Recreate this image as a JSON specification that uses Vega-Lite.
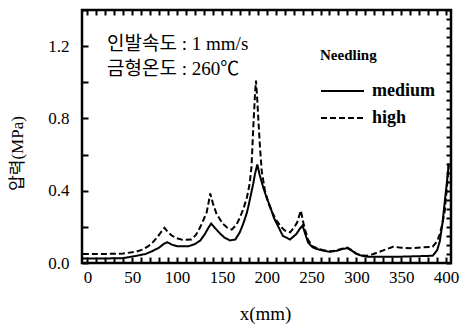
{
  "$schema": "https://vega.github.io/schema/vega-lite/v6.json",
  "width": 369,
  "height": 253,
  "autosize": "none",
  "padding": {"left": 82, "top": 10, "right": 9, "bottom": 62},
  "config": {
    "font": "Liberation Serif",
    "view": {"stroke": "black", "strokeWidth": 2.5},
    "axis": {"domain": false, "grid": false, "labelColor": "black", "titleColor": "black", "labelFont": "Liberation Serif", "labelFontSize": 17, "labelOverlap": false}
  },
  "datasets": {
    "curves": [
      {"x": -5, "p": 0.025, "s": "medium"}, {"x": 20, "p": 0.025, "s": "medium"}, {"x": 40, "p": 0.027, "s": "medium"}, {"x": 55, "p": 0.04, "s": "medium"}, {"x": 65, "p": 0.05, "s": "medium"}, {"x": 72, "p": 0.065, "s": "medium"}, {"x": 80, "p": 0.085, "s": "medium"}, {"x": 85, "p": 0.105, "s": "medium"}, {"x": 89, "p": 0.115, "s": "medium"}, {"x": 94, "p": 0.102, "s": "medium"}, {"x": 100, "p": 0.093, "s": "medium"}, {"x": 113, "p": 0.093, "s": "medium"}, {"x": 120, "p": 0.105, "s": "medium"}, {"x": 126, "p": 0.125, "s": "medium"}, {"x": 131, "p": 0.16, "s": "medium"}, {"x": 135, "p": 0.195, "s": "medium"}, {"x": 138, "p": 0.218, "s": "medium"}, {"x": 142, "p": 0.195, "s": "medium"}, {"x": 148, "p": 0.163, "s": "medium"}, {"x": 153, "p": 0.14, "s": "medium"}, {"x": 159, "p": 0.125, "s": "medium"}, {"x": 165, "p": 0.13, "s": "medium"}, {"x": 170, "p": 0.17, "s": "medium"}, {"x": 174, "p": 0.22, "s": "medium"}, {"x": 178, "p": 0.28, "s": "medium"}, {"x": 181, "p": 0.346, "s": "medium"}, {"x": 185, "p": 0.44, "s": "medium"}, {"x": 187, "p": 0.495, "s": "medium"}, {"x": 189.5, "p": 0.545, "s": "medium"}, {"x": 192, "p": 0.49, "s": "medium"}, {"x": 196, "p": 0.42, "s": "medium"}, {"x": 200, "p": 0.36, "s": "medium"}, {"x": 204, "p": 0.31, "s": "medium"}, {"x": 208, "p": 0.25, "s": "medium"}, {"x": 213, "p": 0.2, "s": "medium"}, {"x": 218, "p": 0.15, "s": "medium"}, {"x": 226, "p": 0.13, "s": "medium"}, {"x": 233, "p": 0.16, "s": "medium"}, {"x": 237, "p": 0.19, "s": "medium"}, {"x": 240, "p": 0.207, "s": "medium"}, {"x": 243, "p": 0.16, "s": "medium"}, {"x": 246, "p": 0.115, "s": "medium"}, {"x": 251, "p": 0.087, "s": "medium"}, {"x": 256, "p": 0.077, "s": "medium"}, {"x": 262, "p": 0.07, "s": "medium"}, {"x": 270, "p": 0.062, "s": "medium"}, {"x": 278, "p": 0.068, "s": "medium"}, {"x": 285, "p": 0.078, "s": "medium"}, {"x": 290, "p": 0.082, "s": "medium"}, {"x": 295, "p": 0.068, "s": "medium"}, {"x": 300, "p": 0.05, "s": "medium"}, {"x": 306, "p": 0.04, "s": "medium"}, {"x": 312, "p": 0.035, "s": "medium"}, {"x": 350, "p": 0.035, "s": "medium"}, {"x": 385, "p": 0.04, "s": "medium"}, {"x": 390, "p": 0.07, "s": "medium"}, {"x": 393, "p": 0.12, "s": "medium"}, {"x": 396, "p": 0.22, "s": "medium"}, {"x": 399, "p": 0.36, "s": "medium"}, {"x": 401, "p": 0.45, "s": "medium"}, {"x": 403, "p": 0.55, "s": "medium"},
      {"x": -5, "p": 0.05, "s": "high"}, {"x": 20, "p": 0.05, "s": "high"}, {"x": 40, "p": 0.052, "s": "high"}, {"x": 55, "p": 0.064, "s": "high"}, {"x": 62, "p": 0.075, "s": "high"}, {"x": 68, "p": 0.093, "s": "high"}, {"x": 73, "p": 0.115, "s": "high"}, {"x": 78, "p": 0.143, "s": "high"}, {"x": 82, "p": 0.17, "s": "high"}, {"x": 86, "p": 0.195, "s": "high"}, {"x": 90, "p": 0.17, "s": "high"}, {"x": 94, "p": 0.152, "s": "high"}, {"x": 100, "p": 0.137, "s": "high"}, {"x": 106, "p": 0.128, "s": "high"}, {"x": 116, "p": 0.13, "s": "high"}, {"x": 121, "p": 0.155, "s": "high"}, {"x": 126, "p": 0.2, "s": "high"}, {"x": 130, "p": 0.245, "s": "high"}, {"x": 133, "p": 0.28, "s": "high"}, {"x": 135, "p": 0.33, "s": "high"}, {"x": 137, "p": 0.385, "s": "high"}, {"x": 140, "p": 0.33, "s": "high"}, {"x": 144, "p": 0.272, "s": "high"}, {"x": 151, "p": 0.217, "s": "high"}, {"x": 156, "p": 0.195, "s": "high"}, {"x": 161, "p": 0.185, "s": "high"}, {"x": 166, "p": 0.21, "s": "high"}, {"x": 170, "p": 0.25, "s": "high"}, {"x": 174, "p": 0.3, "s": "high"}, {"x": 178, "p": 0.364, "s": "high"}, {"x": 181, "p": 0.44, "s": "high"}, {"x": 183, "p": 0.53, "s": "high"}, {"x": 185, "p": 0.75, "s": "high"}, {"x": 187, "p": 0.94, "s": "high"}, {"x": 188, "p": 1.01, "s": "high"}, {"x": 189.5, "p": 0.9, "s": "high"}, {"x": 190.6, "p": 0.8, "s": "high"}, {"x": 192.5, "p": 0.64, "s": "high"}, {"x": 194.4, "p": 0.51, "s": "high"}, {"x": 198, "p": 0.4, "s": "high"}, {"x": 202, "p": 0.33, "s": "high"}, {"x": 206, "p": 0.28, "s": "high"}, {"x": 211, "p": 0.235, "s": "high"}, {"x": 216, "p": 0.2, "s": "high"}, {"x": 220, "p": 0.18, "s": "high"}, {"x": 226, "p": 0.17, "s": "high"}, {"x": 231, "p": 0.2, "s": "high"}, {"x": 234, "p": 0.225, "s": "high"}, {"x": 238, "p": 0.29, "s": "high"}, {"x": 241, "p": 0.22, "s": "high"}, {"x": 243, "p": 0.18, "s": "high"}, {"x": 246, "p": 0.13, "s": "high"}, {"x": 250, "p": 0.095, "s": "high"}, {"x": 256, "p": 0.082, "s": "high"}, {"x": 262, "p": 0.072, "s": "high"}, {"x": 270, "p": 0.064, "s": "high"}, {"x": 278, "p": 0.07, "s": "high"}, {"x": 285, "p": 0.08, "s": "high"}, {"x": 290, "p": 0.085, "s": "high"}, {"x": 295, "p": 0.07, "s": "high"}, {"x": 300, "p": 0.052, "s": "high"}, {"x": 306, "p": 0.042, "s": "high"}, {"x": 312, "p": 0.04, "s": "high"}, {"x": 319, "p": 0.05, "s": "high"}, {"x": 330, "p": 0.07, "s": "high"}, {"x": 341, "p": 0.09, "s": "high"}, {"x": 350, "p": 0.085, "s": "high"}, {"x": 360, "p": 0.082, "s": "high"}, {"x": 385, "p": 0.09, "s": "high"}, {"x": 390, "p": 0.12, "s": "high"}, {"x": 393, "p": 0.16, "s": "high"}, {"x": 396, "p": 0.22, "s": "high"}, {"x": 398.6, "p": 0.29, "s": "high"}, {"x": 401, "p": 0.42, "s": "high"}, {"x": 403, "p": 0.55, "s": "high"}
    ],
    "notes": [
      {"t": "인발속도 : 1 mm/s", "k": 1},
      {"t": "금형온도 : 260℃", "k": 2}
    ]
  },
  "resolve": {"axis": {"x": "independent", "y": "independent"}},
  "layer": [
    {
      "data": {"name": "curves"},
      "mark": {"type": "line", "color": "black", "strokeWidth": 2, "clip": true},
      "encoding": {
        "x": {
          "field": "x", "type": "quantitative",
          "scale": {"domain": [-6, 405.5], "nice": false, "zero": false},
          "axis": {
            "orient": "bottom",
            "offset": -6,
            "ticks": true,
            "tickColor": "black",
            "tickWidth": 2,
            "tickSize": 6,
            "values": [0,10,20,30,40,50,60,70,80,90,100,110,120,130,140,150,160,170,180,190,200,210,220,230,240,250,260,270,280,290,300,310,320,330,340,350,360,370,380,390,400],
            "labelExpr": "datum.value % 50 === 0 ? datum.label : ''",
            "labelPadding": 6,
            "title": "x(mm)",
            "titleFont": "Liberation Serif",
            "titleFontSize": 19,
            "titleFontWeight": "normal",
            "titleX": 183,
            "titleY": 56,
            "titleBaseline": "middle"
          }
        },
        "y": {
          "field": "p", "type": "quantitative",
          "scale": {"domain": [0, 1.4], "nice": false},
          "axis": {
            "orient": "left",
            "offset": -6,
            "ticks": true,
            "tickColor": "black",
            "tickWidth": 2,
            "tickSize": 6,
            "values": [0, 0.2, 0.4, 0.6, 0.8, 1.0, 1.2, 1.4],
            "labelExpr": "round(datum.value * 10) % 4 === 0 ? format(datum.value, '.1f') : ''",
            "labelPadding": 13,
            "title": "압력(MPa)",
            "titleFont": "Liberation Serif, Noto Sans CJK KR",
            "titleFontSize": 17,
            "titleFontWeight": "normal",
            "titleX": -71,
            "titleY": 143,
            "titleAngle": -90,
            "titleAlign": "center",
            "titleBaseline": "middle"
          }
        },
        "strokeDash": {
          "field": "s", "type": "nominal",
          "scale": {"domain": ["medium", "high"], "range": [[1, 0], [6, 3]]},
          "legend": {
            "orient": "none",
            "legendX": 238,
            "legendY": 38,
            "title": "Needling",
            "titleFont": "Liberation Serif",
            "titleFontSize": 15,
            "titleFontWeight": "bold",
            "titleColor": "black",
            "titlePadding": 18,
            "symbolType": "stroke",
            "symbolSize": 1849,
            "symbolStrokeWidth": 2,
            "symbolStrokeColor": "black",
            "clipHeight": 20,
            "rowPadding": 7,
            "labelFont": "Liberation Serif",
            "labelFontSize": 18,
            "labelFontWeight": "bold",
            "labelColor": "black",
            "labelOffset": 7
          }
        }
      }
    },
    {
      "data": {"name": "notes"},
      "transform": [{"filter": "datum.k === 1"}],
      "mark": {"type": "text", "align": "left", "baseline": "alphabetic", "font": "Liberation Serif, Noto Sans CJK KR", "fontSize": 19, "color": "black"},
      "encoding": {
        "text": {"field": "t", "type": "nominal"},
        "x": {"datum": 22, "type": "quantitative", "axis": {"orient": "top", "offset": -5, "ticks": true, "tickColor": "black", "tickWidth": 2, "tickSize": 5, "values": [0,10,20,30,40,50,60,70,80,90,100,110,120,130,140,150,160,170,180,190,200,210,220,230,240,250,260,270,280,290,300,310,320,330,340,350,360,370,380,390,400], "labels": false, "title": null}},
        "y": {"datum": 1.176, "type": "quantitative", "axis": {"orient": "right", "offset": -5, "ticks": true, "tickColor": "black", "tickWidth": 2, "tickSize": 5, "values": [0,0.05,0.1,0.15,0.2,0.25,0.3,0.35,0.4,0.45,0.5,0.55,0.6,0.65,0.7,0.75,0.8,0.85,0.9,0.95,1.0,1.05,1.1,1.15,1.2,1.25,1.3,1.35,1.4], "labels": false, "title": null}}
      }
    },
    {
      "data": {"name": "notes"},
      "transform": [{"filter": "datum.k === 2"}],
      "mark": {"type": "text", "align": "left", "baseline": "alphabetic", "font": "Liberation Serif, Noto Sans CJK KR", "fontSize": 19, "color": "black"},
      "encoding": {
        "text": {"field": "t", "type": "nominal"},
        "x": {"datum": 22, "type": "quantitative", "axis": null},
        "y": {"datum": 1.043, "type": "quantitative", "axis": null}
      }
    }
  ]
}
